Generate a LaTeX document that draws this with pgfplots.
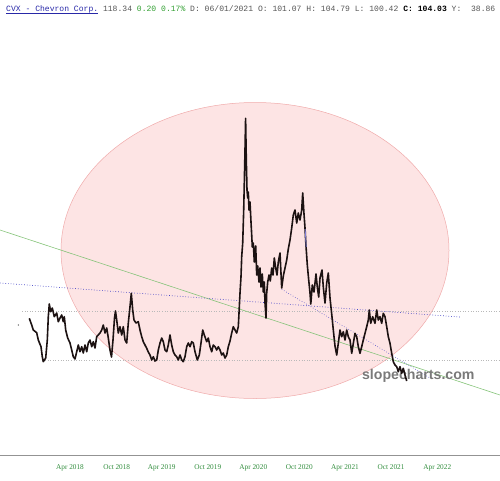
\documentclass[border=0pt]{standalone}
\usepackage{pgfplots}
\pgfplotsset{compat=1.18}
\usepackage{fontspec}
\setmainfont{Liberation Serif}
\newfontfamily\monofont{Liberation Mono}
\newfontfamily\sansfont{Liberation Sans}
\definecolor{ellfill}{HTML}{FDE4E4}
\definecolor{elldraw}{HTML}{F0AAAA}
\definecolor{pricec}{HTML}{1C1212}
\definecolor{tlgreen}{HTML}{2E8B3A}
\definecolor{lgreen}{HTML}{86C47A}
\definecolor{dblue}{HTML}{4848C8}
\definecolor{ttlblue}{HTML}{2828A8}
\definecolor{ttlgray}{HTML}{555555}
\definecolor{ttlgreen}{HTML}{33A033}
\begin{document}
\begin{tikzpicture}
\begin{axis}[
  width=500bp, height=455bp, scale only axis,
  xmin=0, xmax=500, ymin=0, ymax=455, y dir=reverse,
  axis x line=bottom, axis y line=none,
  x axis line style={-, draw=gray!85, line width=1bp},
  xtick={70,116.7,161.7,207.7,253.3,299.3,345,391,437.3},
  xticklabels={Apr 2018,Oct 2018,Apr 2019,Oct 2019,Apr 2020,Oct 2020,Apr 2021,Oct 2021,Apr 2022},
  major tick length=0pt,
  xticklabel style={font=\fontsize{7.3}{8}\selectfont, text=tlgreen, yshift=-6bp},
  clip=false,
]
\fill[ellfill, draw=elldraw, line width=0.5bp] (axis cs:255,250.5) ellipse [x radius=194bp, y radius=148bp];
\addplot[gray!55, dotted, line width=0.6bp] coordinates {(22,311.5) (500,311.5)};
\addplot[gray!55, dotted, line width=0.6bp] coordinates {(45,360.5) (500,360.5)};
\addplot[lgreen, line width=0.6bp] coordinates {(0,230) (500,395)};
\addplot[dblue, dotted, line width=0.7bp] coordinates {(0,283) (460,317)};
\addplot[dblue, dotted, line width=0.6bp] coordinates {(281.7,289.3) (430,378)};
\addplot[only marks, mark=*, mark size=0.5bp, gray] coordinates {(18.3,325)};
\node[font=\sansfont\bfseries\fontsize{14.2}{15}\selectfont, text=gray!95!black] at (axis cs:418.3,376) {slopecharts.com};
\addplot[pricec, line width=1.6bp, line join=round] table {
x y
29.3 318.3
31.7 325
33.3 330
36.7 332.7
38.3 340
41 346.7
42.3 356.7
43.3 361.7
45.7 358
47.3 340
48.3 316.7
49.3 304
50.7 311.7
52.3 308
54.3 316.7
56.7 313
58.3 321.7
60 318
61.7 315
63.3 321.7
64.3 316.7
65.7 330
67.7 338
70 343
71.7 350
73.3 356.7
75 359
76.7 351.7
78.3 345
80 351.7
81.7 346.7
83.3 353
85 345
86.7 351.7
88.3 343
90 340
91.7 346.7
93.3 341.7
95 348
96.7 336.7
100 333
101.7 330
103.3 325
105 333
106.7 328
108.3 338
110 350
111.5 357
113 340
114.5 318
115.5 311
116.7 320
118.3 333
120 326.7
121.7 335
123.3 326.7
125 340
126.7 343
128.3 323
130 306.7
131.3 293.3
132.7 310
134 320
136 323
138.3 321.7
140 330
141.7 336.7
143.3 341.7
145 345
146.7 348.3
148.3 352
150 355
151.7 360
153.3 356.7
155 361
156.7 360
158.3 350
160 343
161.7 338
163.3 341.7
165 350
166.7 351.7
168.3 345
170 335
171.7 345
173.3 351.7
175 355
176.7 356.7
178.3 360
180 355
181.7 360
183.3 361.7
185 356.7
186.7 346.7
188.3 343
190 346.7
191.7 341.7
193.3 343
195 351.7
197.3 360
199.3 355
201 343
202.7 330
204.3 335
206.7 341.7
208.3 338
210 346.7
211.7 351.7
213.3 345
215 346.7
216.7 350
218.3 346.7
220 350
221.7 355
223.3 353
225 358
226.7 355
228.3 346.7
230 341
231.7 333
233.3 326.7
235 330
236.7 333
238.3 326.7
239 313
240 293
241 276.7
241.7 256.7
242.7 243
243.7 210
244.3 183
245 150
245.6 118.3
246.3 160
247 190
247.7 198
248.3 192
249 210
250 202
251 222
251.7 235
252.3 247
253.3 243
254.3 262
255.7 246
256.7 275
257.7 266
259 282
260 268
261 287
262.3 274
263.3 292
264.3 282
265 303
266 318
266.7 293
267.7 282
269 275
270.3 281
271.7 268
273 275
274.3 258
275.7 268
277 275
278.3 262
280 253
281.7 288
283.3 276
285 268
286.7 260
288.3 249
290 240
291.7 228
293.3 215
295 210
296.7 223
298.3 213
300 220
301.7 210
302.7 193
304 214
305 228
306 246
307.3 265
308.7 280
310 293
310.8 304
312.3 285
314 292
316 274
317.3 287
318.7 297
320 278
322 270
323.3 287
325 303
326.7 283
328.3 273
330 298
331.7 314
333.3 330
335 346
336.7 355
338.3 343.3
340 330
341.7 336.7
343.3 331.7
345 340
346.7 330
348.3 336.7
350 340
351.7 353.3
353.3 343.3
355 333.3
356.7 336.7
358.3 346.7
360 353.3
361.7 346.7
363.3 340
365 333.3
366.7 326.7
368.3 320
369.3 310
370.7 323.3
372.7 316.7
375 323.3
376.7 310
378.3 320
380 316.7
381.7 323.3
383.3 313.3
385 316.7
386.7 326.7
388.3 336.7
390 343.3
391.7 353.3
393.3 361.7
395 365
396.7 366.7
398.3 371.7
400 366.7
401.7 373.3
403.3 368.3
405 375
406.7 381
};
\addplot[dblue!70, line width=0.8bp] coordinates {(305.2,229) (306.2,247)};
\node[anchor=base west, inner sep=0pt, font=\monofont\fontsize{8.1}{9}\selectfont] at (axis cs:6,12)
  {\textcolor{ttlblue}{CVX~-~Chevron~Corp.}~\textcolor{ttlgray}{118.34}~\textcolor{ttlgreen}{0.20~0.17\%}~\textcolor{ttlgray}{D:~06/01/2021~O:~101.07~H:~104.79~L:~100.42}~\textbf{C:~104.03}~\textcolor{ttlgray}{Y:~~38.86}};
\draw[ttlblue, line width=0.5bp] (axis cs:6,13.5) -- (axis cs:97.5,13.5);
\coordinate (bbtl) at (axis cs:0,0);
\coordinate (bbbr) at (axis cs:500,480);
\end{axis}
\pgfresetboundingbox
\path[use as bounding box] (bbtl) rectangle (bbbr);
\end{tikzpicture}
\end{document}
